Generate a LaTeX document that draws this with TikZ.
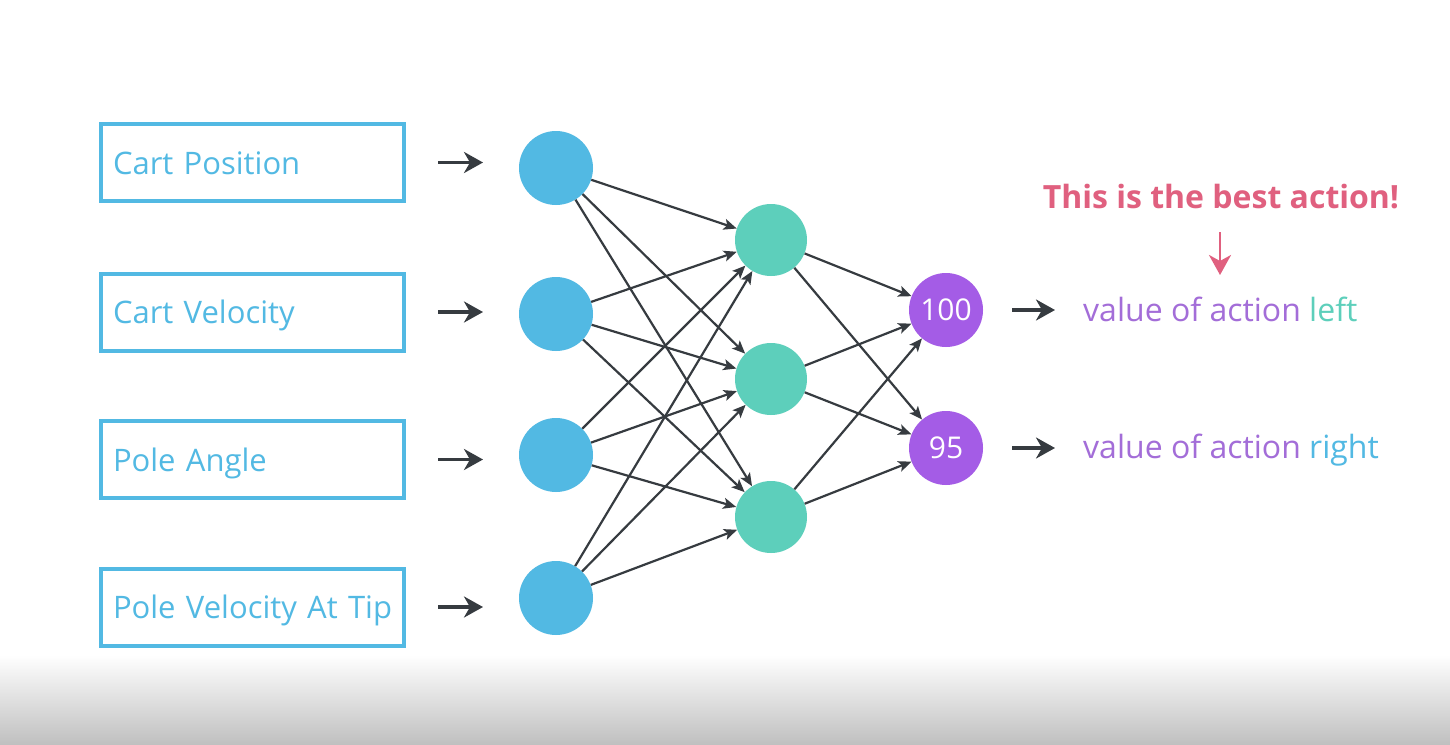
\documentclass[tikz,border=0pt]{standalone}
\usepackage{fontspec}
\setmainfont{Open Sans}
\usetikzlibrary{arrows.meta}
\definecolor{inblue}{HTML}{52B9E3}
\definecolor{hidteal}{HTML}{5DCFBB}
\definecolor{outpurp}{HTML}{A45CE6}
\definecolor{txtpurp}{HTML}{A36DD8}
\definecolor{bestred}{HTML}{E0607F}
\definecolor{arrgray}{HTML}{363B40}
\definecolor{bottomgray}{HTML}{C0C0C0}
\begin{document}
\begin{tikzpicture}[x=1pt,y=-1pt,
  inbox/.style={draw=inblue, line width=4pt, minimum width=303pt, minimum height=77pt,
    text width=279pt, inner xsep=12pt, inner ysep=0pt, align=left, text height=29pt, text depth=6pt,
    font=\fontsize{31}{36}\selectfont, text=inblue},
  neuron/.style={circle, inner sep=0pt, minimum size=74pt},
  inneuron/.style={neuron, fill=inblue},
  hidneuron/.style={neuron, fill=hidteal, minimum size=72pt},
  outneuron/.style={neuron, fill=outpurp, text=white, font=\fontsize{30}{34}\selectfont},
  bigarr/.style={draw=arrgray, line width=3.2pt, -{Stealth[length=19pt,width=21pt,inset=6pt]}},
  netarr/.style={draw=arrgray, line width=2.2pt, -{Stealth[length=13pt,width=11pt,inset=3pt]}},
  redarr/.style={draw=bestred, line width=2.5pt, -{Stealth[length=20pt,width=22pt,inset=6pt]}},
  valtext/.style={anchor=base west, inner sep=0pt, text=txtpurp, font=\fontsize{32}{36}\selectfont},
]
\useasboundingbox (0,0) rectangle (1450,744);
\fill[white] (0,0) rectangle (1450,744);
\shade[top color=white, bottom color=bottomgray] (0,655) rectangle (1450,744);

% input boxes
\node[inbox] (b1) at (252.5,162.5) {\mbox{Cart Position}};
\node[inbox] (b2) at (252.5,312) {\mbox{Cart Velocity}};
\node[inbox] (b3) at (252.5,459.5) {\mbox{Pole Angle}};
\node[inbox] (b4) at (252.5,607) {\mbox{Pole Velocity At Tip}};

% neurons
\node[inneuron] (i1) at (556,168) {};
\node[inneuron] (i2) at (556,314) {};
\node[inneuron] (i3) at (556,455) {};
\node[inneuron] (i4) at (556,598) {};
\node[hidneuron] (h1) at (771,240) {};
\node[hidneuron] (h2) at (771,379) {};
\node[hidneuron] (h3) at (771,517) {};
\node[outneuron] (o1) at (946,310) {100};
\node[outneuron] (o2) at (946,448) {95};

% box to input arrows
\foreach \k in {1,2,3,4}{
  \draw[bigarr] ([xshift=32pt]b\k.east) -- ([xshift=77pt]b\k.east);
}
% network connections
\foreach \a in {1,2,3,4}{
  \foreach \b in {1,2,3}{
    \draw[netarr] (i\a) -- (h\b);
  }
}
\foreach \b in {1,2,3}{
  \foreach \c in {1,2}{
    \draw[netarr] (h\b) -- (o\c);
  }
}

% outputs
\node[valtext] (v1) at (1083,321) {value of action \textcolor{hidteal}{left}};
\node[valtext] (v2) at (1083,458) {value of action \textcolor{inblue}{right}};
\draw[bigarr] ([xshift=29pt]o1.east) -- ([xshift=-28pt]v1.west |- o1.center);
\draw[bigarr] ([xshift=29pt]o2.east) -- ([xshift=-28pt]v2.west |- o2.center);

% best action
\node[anchor=base, inner sep=0pt, text=bestred, font=\fontsize{32}{36}\selectfont\bfseries] (best) at (1221,208) {This is the best action!};
\coordinate (ba1) at (1220,232);
\coordinate (ba2) at (1220,275);
\draw[redarr] (ba1) -- (ba2);
\end{tikzpicture}
\end{document}
